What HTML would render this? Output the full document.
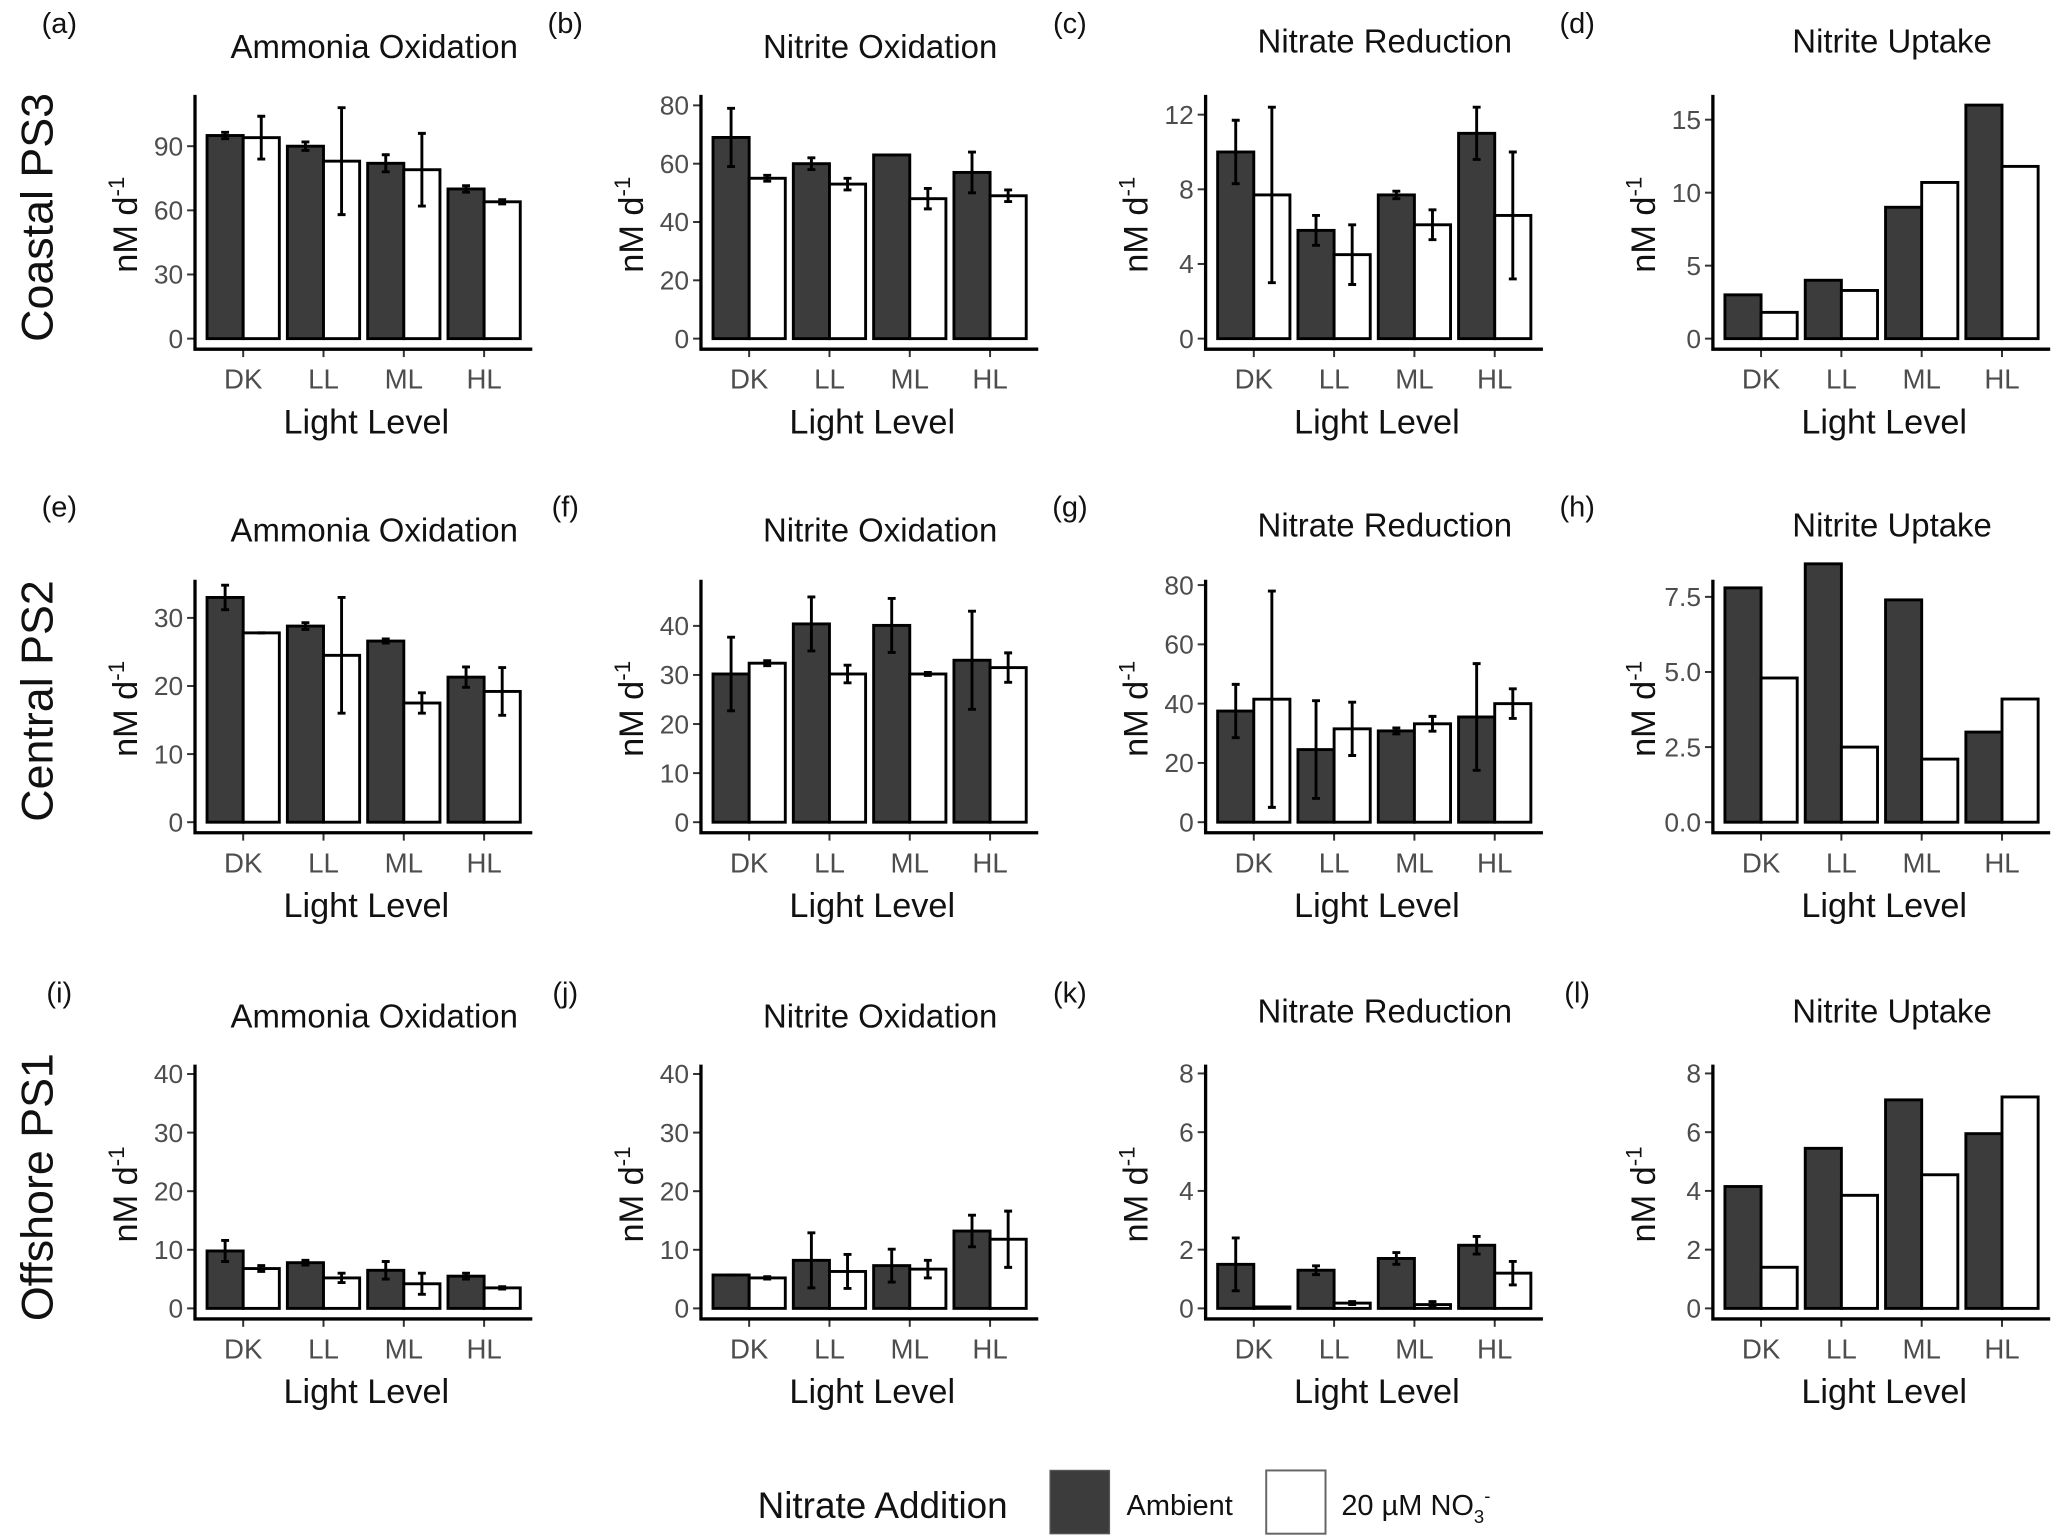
<!DOCTYPE html>
<html><head><meta charset="utf-8"><style>
html,body{margin:0;padding:0;background:#fff;}
svg{display:block;font-family:"Liberation Sans",sans-serif;}
</style></head><body>
<svg id="fig" width="2066" height="1537" viewBox="0 0 1568 1166.5" xmlns="http://www.w3.org/2000/svg">
<g id="panels"></g>
<g>
<text x="575" y="1152" font-size="28" fill="#111">Nitrate Addition</text>
<rect x="797" y="1116" width="45" height="48" fill="#3c3c3c" stroke="#555" stroke-width="1"/>
<text x="855" y="1150" font-size="22" fill="#111">Ambient</text>
<rect x="961" y="1116" width="45" height="48" fill="#fff" stroke="#666" stroke-width="1.5"/>
<text x="1018" y="1150" font-size="22" fill="#111">20 µM NO<tspan font-size="14" dy="6">3</tspan><tspan font-size="14" dy="-16">-</tspan></text>
</g>
</svg>
<script>
const categories = ["DK","LL","ML","HL"];
const panelLetters = ["(a)","(b)","(c)","(d)","(e)","(f)","(g)","(h)","(i)","(j)","(k)","(l)"];
const panelTitles = ["Ammonia Oxidation","Nitrite Oxidation","Nitrate Reduction","Nitrite Uptake"];
const rowLabels = ["Coastal PS3","Central PS2","Offshore PS1"];
const yMax = [114,83.6,13.06,16.7, 35.6,49.4,81.8,8.07, 41.6,41.6,8.3,8.3];
const yTicks = [[0,30,60,90],[0,20,40,60,80],[0,4,8,12],[0,5,10,15],
 [0,10,20,30],[0,10,20,30,40],[0,20,40,60,80],[0,2.5,5,7.5],
 [0,10,20,30,40],[0,10,20,30,40],[0,2,4,6,8],[0,2,4,6,8]];
const yTickLabels = [["0","30","60","90"],["0","20","40","60","80"],["0","4","8","12"],["0","5","10","15"],
 ["0","10","20","30"],["0","10","20","30","40"],["0","20","40","60","80"],["0.0","2.5","5.0","7.5"],
 ["0","10","20","30","40"],["0","10","20","30","40"],["0","2","4","6","8"],["0","2","4","6","8"]];
const ambient = [[95,90,82,70],[69,60,63,57],[10,5.8,7.7,11],[3,4,9,16],
 [33,28.8,26.6,21.3],[30.2,40.4,40.1,33],[37.5,24.5,30.8,35.5],[7.8,8.6,7.4,3.0],
 [9.8,7.8,6.5,5.5],[5.7,8.2,7.3,13.2],[1.5,1.3,1.7,2.15],[4.15,5.45,7.1,5.95]];
const ambientErr = [[1.5,2,4,1.5],[10,2,0,7],[1.7,0.8,0.2,1.4],null,
 [1.8,0.5,0.3,1.5],[7.5,5.5,5.5,10],[9,16.5,1,18],null,
 [1.8,0.4,1.5,0.5],[0,4.7,2.8,2.7],[0.9,0.15,0.2,0.3],null];
const nitrate = [[94,83,79,64],[55,53,48,49],[7.7,4.5,6.1,6.6],[1.8,3.3,10.7,11.8],
 [27.8,24.5,17.5,19.2],[32.4,30.2,30.2,31.5],[41.5,31.5,33.2,40],[4.8,2.5,2.1,4.1],
 [6.8,5.2,4.2,3.5],[5.2,6.3,6.7,11.8],[0.05,0.18,0.13,1.2],[1.4,3.85,4.55,7.2]];
const nitrateErr = [[10,25,17,1],[1,2,3.5,2],[4.7,1.6,0.8,3.4],null,
 [0,8.5,1.5,3.5],[0.5,1.8,0.3,3],[36.5,9,2.5,5],null,
 [0.5,0.8,1.8,0.2],[0.2,2.9,1.5,4.8],[0,0.05,0.1,0.4],null];

const NS="http://www.w3.org/2000/svg";
const root=document.getElementById('panels');
function mk(tag,attrs,parent){const e=document.createElementNS(NS,tag);for(const k in attrs)e.setAttribute(k,attrs[k]);(parent||root).appendChild(e);return e;}
const colX=[148,532,915,1300];
const rowBase=[257,624,993];
const rowTop=[72,440,808];
const titleDy=[0,0,-4,-4];
rowLabels.forEach((lab,r)=>{
  const t=mk('text',{x:0,y:0,'font-size':34,fill:'#111','text-anchor':'middle',transform:`translate(40,${rowBase[r]-92}) rotate(-90)`});
  t.textContent=lab;
  
  
});
for(let p=0;p<12;p++){
  const r=Math.floor(p/4), c=p%4;
  const ax=colX[c], base=rowBase[r], top=rowTop[r];
  const g=mk('g',{});
  
  
  const yS=v=>base-(v/yMax[p])*(base-top);
  const xL=ax, xR=ax+256, unit=(xR-xL)/4.2;
  const xS=i=>xL+(0.6+i)*unit;
  const bw=unit*0.45;
  let t=mk('text',{x:ax-103,y:base-232,'font-size':22,fill:'#111','text-anchor':'middle'},g);
  t.textContent=panelLetters[p];
  
  
  t=mk('text',{x:ax+136,y:base-213+titleDy[c],'font-size':25,fill:'#111','text-anchor':'middle'},g);
  t.textContent=panelTitles[c];
  
  
  t=mk('text',{x:0,y:0,'font-size':26,fill:'#111','text-anchor':'middle',transform:`translate(${ax-44},${(base+top)/2+6}) rotate(-90)`},g);
  t.innerHTML='nM d<tspan font-size="17" dy="-10">-1</tspan>';
  
  
  yTicks[p].forEach((v,i)=>{
    const y=yS(v);
    const l=mk('line',{x1:ax-6,x2:ax,y1:y,y2:y,stroke:'#333','stroke-width':1.5},g);
    
    
    const tt=mk('text',{x:ax-9,y:y+7,'font-size':20,fill:'#4d4d4d','text-anchor':'end'},g);
    tt.textContent=yTickLabels[p][i];
    
    
  });
  categories.forEach((cat,i)=>{
    const cx=xS(i);
    [[ambient,ambientErr,'#3c3c3c',-1,'ambient'],[nitrate,nitrateErr,'#ffffff',0,'nitrate']].forEach(([vals,errs,fill,off,nm])=>{
      const v=vals[p][i], x0=cx+off*bw, y=yS(v);
      const b=mk('rect',{x:x0,y:y,width:bw,height:base-y,fill:fill,stroke:'#000','stroke-width':2.2},g);
      
      
      if(errs[p]){
        const e=errs[p][i], ex=x0+bw/2;
        const eg=mk('path',{d:`M${ex-3},${yS(v+e)}H${ex+3}M${ex},${yS(v+e)}V${yS(Math.max(0,v-e))}M${ex-3},${yS(Math.max(0,v-e))}H${ex+3}`,stroke:'#000','stroke-width':2.2,fill:'none'},g);
        
        
      }
    });
    const tl=mk('line',{x1:cx,x2:cx,y1:base+8,y2:base+14,stroke:'#333','stroke-width':1.5},g);
    
    
    const tx=mk('text',{x:cx,y:base+38,'font-size':21,fill:'#4d4d4d','text-anchor':'middle'},g);
    tx.textContent=cat;
    
    
  });
  const axl=mk('path',{d:`M${ax},${top}V${base+8}H${xR}`,stroke:'#000','stroke-width':2.5,fill:'none'},g);
  
  
  t=mk('text',{x:ax+130,y:base+72,'font-size':26,fill:'#111','text-anchor':'middle'},g);
  t.textContent='Light Level';
  
  
}
</script>
</body></html>
